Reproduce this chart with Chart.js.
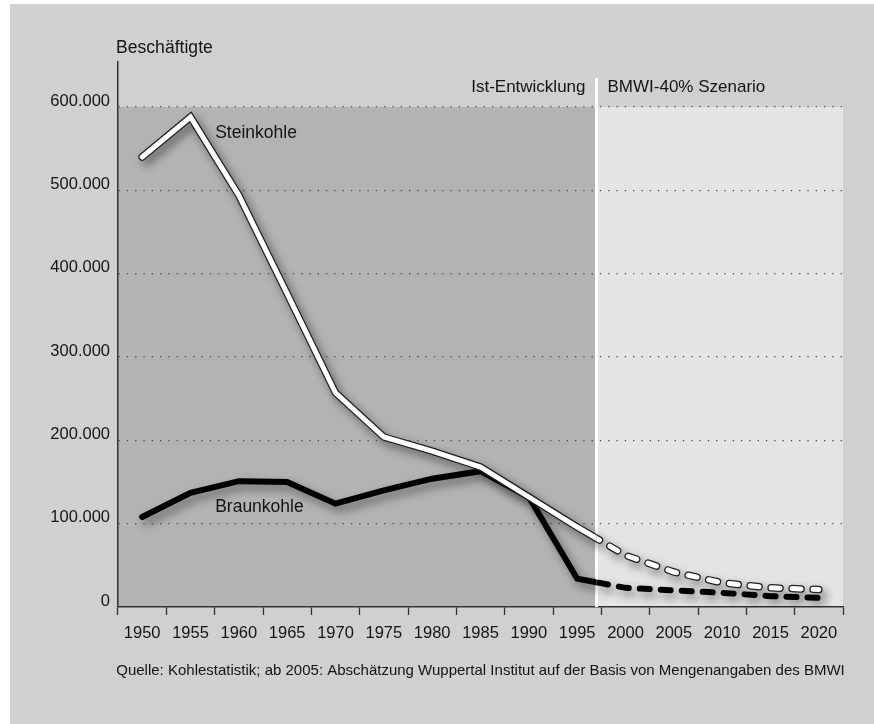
<!DOCTYPE html>
<html lang="de">
<head>
<meta charset="utf-8">
<title>Beschäftigte im Kohlebergbau</title>
<script src="https://cdn.jsdelivr.net/npm/chart.js@4.4.1/dist/chart.umd.min.js"></script>
<style>
  html, body { margin: 0; padding: 0; background: #ffffff; }
  #wrap { width: 874px; height: 724px; }
</style>
</head>
<body>
<div id="wrap"><canvas id="kohle" width="874" height="724"></canvas></div>
<script>
// Daten
const jahre = ['1950', '1955', '1960', '1965', '1970', '1975', '1980', '1985', '1990', '1995', '2000', '2005', '2010', '2015', '2020'];
const steinkohle = [540000, 588000, 494000, 376000, 257000, 204000, 187000, 168000, 132000, 96000, 62000, 42000, 29000, 23000, 21000];
const braunkohle = [108000, 137000, 151000, 150000, 124000, 140000, 154000, 163000, 132000, 34000, 23000, 20000, 17000, 13000, 11000];
const yTicks = [0, 100000, 200000, 300000, 400000, 500000, 600000];

// Texte
const yTitel = 'Beschäftigte';
const linksTitel = 'Ist-Entwicklung';
const rechtsTitel = 'BMWI-40% Szenario';
const quelle = 'Quelle: Kohlestatistik; ab 2005: Abschätzung Wuppertal Institut auf der Basis von Mengenangaben des BMWI';
const serienNamen = ['Steinkohle', 'Braunkohle'];
const serienLabelPos = [[1.51, 569000], [1.51, 120000]];

// Grenze zwischen Ist und Szenario (Kategorie-Index)
const grenze = 9.4;

const schrift = '"Liberation Sans", Arial, sans-serif';
const textFarbe = '#141414';

function linie(data, farbe, breite, teil, dash, order, schatten) {
    return {
        data: data,
        borderColor: farbe,
        borderWidth: breite,
        borderDash: dash,
        borderJoinStyle: 'miter',
        borderCapStyle: 'round',
        pointRadius: 0,
        tension: 0,
        fill: false,
        order: order,
        teil: teil,
        schatten: schatten
    };
}

const datasets = [
    linie(steinkohle, '#ffffff', 5, 'ist', [], 1, false),
    linie(steinkohle, '#ffffff', 5, 'szenario', [9, 12], 1, false),
    linie(steinkohle, '#222222', 7.5, 'ist', [], 2, true),
    linie(steinkohle, '#222222', 7.5, 'szenario', [9, 12], 2, true),
    linie(braunkohle, '#000000', 6, 'ist', [], 3, true),
    linie(braunkohle, '#000000', 6, 'szenario', [10, 11], 3, true)
];

function grenzeX(chart) {
    return chart.scales.x.getPixelForValue(grenze);
}

// Hintergrund, Flaechen, Trennlinie
const hintergrund = {
    id: 'hintergrund',
    beforeDraw(chart) {
        const ctx = chart.ctx;
        const area = chart.chartArea;
        const gx = grenzeX(chart);
        const top = chart.scales.y.getPixelForValue(600000);
        ctx.save();
        ctx.fillStyle = '#ffffff';
        ctx.fillRect(0, 0, chart.width, chart.height);
        ctx.fillStyle = '#d0d0d0';
        ctx.fillRect(10, 4, chart.width - 10, chart.height - 4);
        ctx.fillStyle = '#b3b3b3';
        ctx.fillRect(area.left, top, gx - area.left, area.bottom - top);
        ctx.fillStyle = '#e4e4e4';
        ctx.fillRect(gx, top, area.right - gx, area.bottom - top);
        ctx.restore();
    },
    beforeDatasetsDraw(chart) {
        const ctx = chart.ctx;
        const gx = grenzeX(chart);
        const top = chart.scales.y.getPixelForValue(600000);
        ctx.save();
        ctx.strokeStyle = '#ffffff';
        ctx.lineWidth = 3;
        ctx.beginPath();
        ctx.moveTo(gx, top - 29);
        ctx.lineTo(gx, chart.chartArea.bottom);
        ctx.stroke();
        ctx.restore();
    }
};

// durchgezogen links, gestrichelt rechts der Grenze; Schatten
const teilClip = {
    id: 'teilClip',
    beforeDatasetDraw(chart, args) {
        const ds = chart.data.datasets[args.index];
        const ctx = chart.ctx;
        const gx = grenzeX(chart);
        ctx.save();
        ctx.beginPath();
        if (ds.teil === 'ist') {
            ctx.rect(0, 0, gx, chart.height);
        } else {
            ctx.rect(gx, 0, chart.width - gx, chart.height);
        }
        ctx.clip();
        if (ds.schatten) {
            ctx.shadowColor = 'rgba(0, 0, 0, 0.45)';
            ctx.shadowBlur = 10;
            ctx.shadowOffsetX = 4;
            ctx.shadowOffsetY = 5;
        }
    },
    afterDatasetDraw(chart) {
        chart.ctx.restore();
    }
};

// Beschriftungen
const texte = {
    id: 'texte',
    afterDraw(chart) {
        const ctx = chart.ctx;
        const area = chart.chartArea;
        const x = chart.scales.x;
        const y = chart.scales.y;
        const gx = grenzeX(chart);
        ctx.save();
        ctx.fillStyle = textFarbe;
        ctx.textBaseline = 'middle';
        ctx.font = '17.6px ' + schrift;
        ctx.textAlign = 'left';
        ctx.fillText(yTitel, 116, 48);
        ctx.font = '17px ' + schrift;
        ctx.textAlign = 'right';
        ctx.fillText(linksTitel, gx - 11, 87);
        ctx.textAlign = 'left';
        ctx.fillText(rechtsTitel, gx + 11, 87);
        ctx.font = '17.5px ' + schrift;
        serienNamen.forEach((name, i) => {
            ctx.fillText(name, x.getPixelForValue(serienLabelPos[i][0]), y.getPixelForValue(serienLabelPos[i][1]));
        });
        ctx.font = '15px ' + schrift;
        ctx.textAlign = 'center';
        ctx.fillText(quelle, (area.left + area.right) / 2, 671);
        ctx.restore();
    }
};

const chart = new Chart(document.getElementById('kohle').getContext('2d'), {
    type: 'line',
    data: {
        labels: jahre,
        datasets: datasets
    },
    options: {
        responsive: false,
        devicePixelRatio: 1,
        animation: false,
        layout: { padding: { top: 62, right: 31, bottom: 0, left: 0 } },
        plugins: {
            legend: { display: false },
            tooltip: { enabled: false }
        },
        scales: {
            x: {
                type: 'category',
                offset: true,
                grid: {
                    offset: true,
                    drawOnChartArea: false,
                    drawTicks: true,
                    tickLength: 8,
                    tickColor: '#333333',
                    tickWidth: 1.3
                },
                border: { display: true, color: '#333333', width: 1.5 },
                ticks: {
                    color: textFarbe,
                    padding: 9,
                    maxRotation: 0,
                    autoSkip: false,
                    font: { family: schrift, size: 16.5 }
                },
                afterFit(scale) { scale.height = 117; }
            },
            y: {
                min: 0,
                max: 654000,
                afterBuildTicks(scale) {
                    scale.ticks = yTicks.map(v => ({ value: v }));
                },
                grid: {
                    drawTicks: false,
                    color: ctx => ctx.tick && ctx.tick.value === 0 ? 'rgba(0,0,0,0)' : '#4a4a4a',
                    lineWidth: 1.3
                },
                border: { display: true, color: '#333333', width: 1.5, dash: [1.3, 7] },
                ticks: {
                    color: textFarbe,
                    padding: 8,
                    labelOffset: -6,
                    font: { family: schrift, size: 16.5 },
                    callback: v => v.toLocaleString('de-DE')
                },
                afterFit(scale) { scale.width = 118; }
            }
        }
    },
    plugins: [hintergrund, teilClip, texte]
});
</script>
</body>
</html>
